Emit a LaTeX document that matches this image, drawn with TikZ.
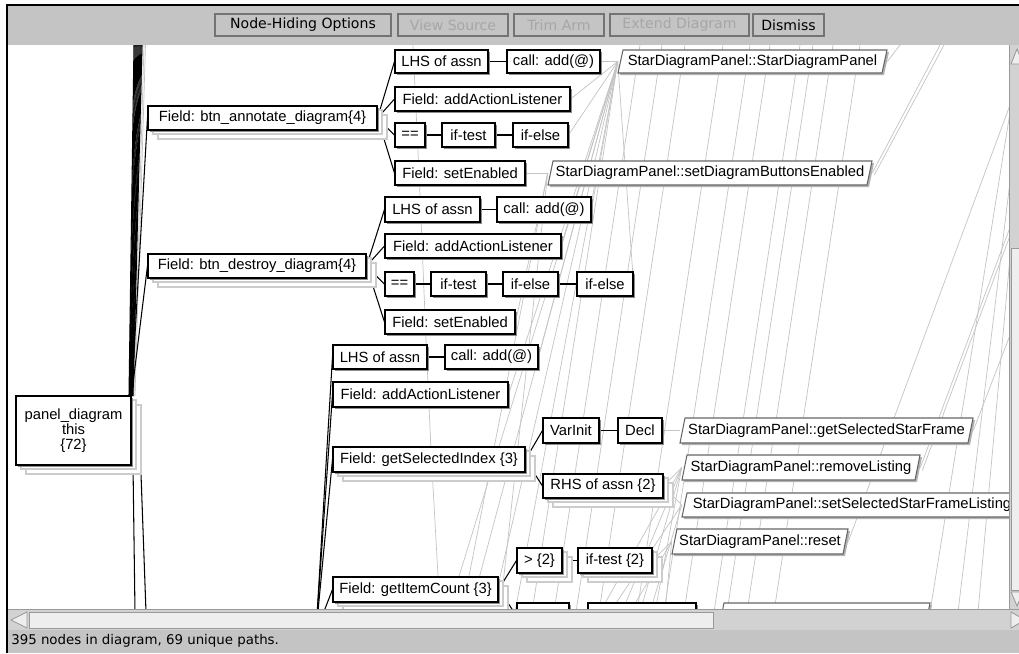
\documentclass[tikz,border=0pt]{standalone}
\usepackage{fontspec}
\setmainfont{Liberation Sans}
\newfontfamily\uifont{DejaVu Sans}
\pgfdeclarelayer{back}
\pgfsetlayers{back,main}

\definecolor{barGray}{HTML}{C4C4C4}
\definecolor{trackGray}{HTML}{D2D2D2}
\definecolor{thumbGray}{HTML}{EEEEEE}
\definecolor{lineGray}{HTML}{C4C4C4}

\newcommand\nodefont{\fontsize{10.5}{10.5}\selectfont}

\tikzset{
  cell/.style={draw=black, fill=white, line width=0.75pt, inner sep=0pt, align=center, font=\nodefont},
  cellshadow/.style={fill=black!45},
  stackframe/.style={draw=black!20, fill=white, line width=0.75pt},
  starframe/.style={draw=black!60, fill=white, line width=0.75pt},
  startext/.style={inner sep=0pt, font=\nodefont},
  tie/.style={black, line width=0.75pt},
  faint/.style={lineGray, line width=0.5pt},
  btn/.style={draw=black!55, fill=barGray, line width=0.75pt, inner sep=0pt, minimum height={22*0.025cm}, font=\uifont\fontsize{10}{12}\selectfont},
  btnoff/.style={btn, text=black!35},
  scrollpart/.style={draw=black!40, fill=thumbGray, line width=0.6pt},
}

% name, x1, y1, x2, y2, text (pixel corners)
\newcommand\cellbox[6]{%
  \fill[cellshadow] (#2+2,#3+2) rectangle (#4+2,#5+2);
  \node[cell, minimum width={(#4-#2)*0.025cm}, minimum height={(#5-#3)*0.025cm}] (#1) at ({(#2+#4)/2},{(#3+#5)/2}) {#6};}
\newcommand\stackbox[6]{%
  \draw[stackframe] (#2+10,#3+9) rectangle (#4+10,#5+9);
  \draw[stackframe] (#2+5,#3+4) rectangle (#4+5,#5+4);
  \cellbox{#1}{#2}{#3}{#4}{#5}{#6}}
\newcommand\starnode[6]{%
  \fill[black!30] (#2+2,#5+2) -- (#2+7,#3+2) -- (#4+2,#3+2) -- (#4-3,#5+2) -- cycle;
  \draw[starframe] (#2,#5) -- (#2+5,#3) -- (#4,#3) -- (#4-5,#5) -- cycle;
  \node[startext, minimum width={(#4-#2)*0.025cm}, minimum height={(#5-#3)*0.025cm}] (#1) at ({(#2+#4)/2},{(#3+#5)/2}) {#6};}

\begin{document}
\begin{tikzpicture}[x=0.025cm, y=-0.025cm]
	\useasboundingbox (0,0) rectangle (1019,653);
	% root
	\stackbox{panel}{16}{396}{131}{465}{panel\_diagram\\this\\\{72\}}
	% first field
	\stackbox{fA}{148}{106}{377}{130}{Field: btn\_annotate\_diagram\{4\}}
	\cellbox{aLHS}{395}{50}{488}{73}{LHS of assn}
	\cellbox{aCall}{507}{50}{600}{73}{call: add(@)}
	\starnode{sdpA}{618}{50}{887}{73}{StarDiagramPanel::StarDiagramPanel}
	\cellbox{aAdd}{395}{87}{570}{111}{Field: addActionListener}
	\cellbox{aEq}{395}{123}{425}{147}{==}
	\cellbox{aIft}{442}{123}{495}{147}{if-test}
	\cellbox{aIfe}{513}{123}{568}{147}{if-else}
	\cellbox{aSet}{395}{161}{525}{185}{Field: setEnabled}
	\starnode{sdpB}{548}{161}{872}{185}{StarDiagramPanel::setDiagramButtonsEnabled}
	% second field
	\stackbox{fB}{148}{254}{366}{278}{Field: btn\_destroy\_diagram\{4\}}
	\cellbox{bLHS}{385}{197}{480}{222}{LHS of assn}
	\cellbox{bCall}{497}{197}{591}{222}{call: add(@)}
	\cellbox{bAdd}{385}{234}{561}{258}{Field: addActionListener}
	\cellbox{bEq}{385}{272}{414}{296}{==}
	\cellbox{bIft}{431}{272}{486}{296}{if-test}
	\cellbox{bIfe}{503}{272}{558}{296}{if-else}
	\cellbox{bIfe2}{577}{272}{633}{296}{if-else}
	\cellbox{bSet}{385}{310}{515}{334}{Field: setEnabled}
	% third group
	\cellbox{cLHS}{333}{345}{427}{369}{LHS of assn}
	\cellbox{cCall}{445}{345}{538}{369}{call: add(@)}
	\cellbox{cAdd}{333}{382}{508}{407}{Field: addActionListener}
	\stackbox{cGsi}{333}{447}{525}{472}{Field: getSelectedIndex \{3\}}
	\cellbox{cVar}{543}{418}{599}{443}{VarInit}
	\cellbox{cDecl}{618}{418}{662}{443}{Decl}
	\starnode{sdpC}{680}{418}{973}{443}{StarDiagramPanel::getSelectedStarFrame}
	\stackbox{cRhs}{543}{474}{663}{498}{RHS of assn \{2\}}
	\starnode{sdpD}{682}{455}{920}{480}{StarDiagramPanel::removeListing}
	\starnode{sdpE}{682}{493}{1022}{517}{StarDiagramPanel::setSelectedStarFrameListing}
	\starnode{sdpF}{672}{529}{848}{554}{StarDiagramPanel::reset}
	\stackbox{cGic}{333}{577}{498}{602}{Field: getItemCount \{3\}}
	\stackbox{cGt}{517}{548}{562}{573}{> \{2\}}
	\stackbox{cIft2}{578}{548}{652}{573}{if-test \{2\}}
	\cellbox{pA}{517}{603}{569}{628}{}
	\cellbox{pB}{588}{603}{696}{628}{}
	\starnode{pC}{719}{603}{930}{628}{}
	\coordinate (cFeed) at (316,632);

	\begin{pgfonlayer}{back}
		\fill[white] (8,45) rectangle (1009,609);
		% paths leaving the view
		\foreach \xt in {640,662,685,723,750,770,800,813,833,860}
			\draw[faint] (\xt,45) -- (\xt-86,612);
		\draw[faint] (1012,100) -- (930,612);
		\draw[faint] (1012,165) -- (958,612);
		\draw[faint] (1012,235) -- (978,612);
		\draw[faint] (413,45) -- (420,195) -- (426,340) -- (431,450) -- (440,612);
		\foreach \s in {aAdd,aIfe,bCall,bAdd,bIfe2,cCall,cAdd}
			\draw[faint] (\s.east) -- (sdpA.west);
		\foreach \xb in {448,470,492,515,532}
			\draw[faint] (\xb,612) -- (sdpA.west);
		\draw[faint] (bSet.east) -- (sdpB.west);
		\foreach \xb in {462,500}
			\draw[faint] (\xb,612) -- (sdpB.west);
		\draw[faint] (sdpA.east) -- (900,45);
		\draw[faint] (sdpB.east) -- (940,45);
		\draw[faint] ([shift={(2,2)}]sdpB.east) -- (944,45);
		\draw[faint] (sdpC.east) -- (1012,330);
		\draw[faint] (sdpD.east) -- (1012,222);
		\draw[faint] ([shift={(2,3)}]sdpD.east) -- (1014,225);
		\draw[faint] (sdpF.east) -- (1010,105);
		\foreach \xb in {600,622,640,655}
			\draw[faint] (\xb,612) -- (sdpD.west);
		\foreach \xb in {610,650}
			\draw[faint] (\xb,612) -- (sdpE.west);
		\foreach \xb in {630,665}
			\draw[faint] (\xb,612) -- (sdpF.west);
		\foreach \i in {0,...,3}
			\draw[faint] (132+\i,396) -- (141+\i*1.5,45);
		% calls into the star nodes
		\draw[faint] (aCall) -- (sdpA);
		\draw[faint] (aSet) -- (sdpB);
		\draw[faint] (cDecl) -- (sdpC);
		\draw[faint] (cRhs.east) -- (sdpD.west);
		\draw[faint] (cRhs.east) -- (sdpE.west);
		\draw[faint] (cIft2.east) -- (sdpF.west);
		% tree edges
		\foreach \i in {0,...,8}
			\draw[tie] (129+\i*0.5,396) -- (134+\i,45);
		\draw[tie] (panel.north east) -- (fA.west);
		\draw[tie] (panel.north east) -- (fB.west);
		\draw[tie] (133,465) -- (135,612);
		\draw[tie] (141,474) -- (146,612);
		\foreach \c in {aLHS,aAdd,aEq,aSet}
			\draw[tie] (fA.east) -- (\c.west);
		\foreach \c in {bLHS,bAdd,bEq,bSet}
			\draw[tie] (fB.east) -- (\c.west);
		\foreach \c in {cLHS,cAdd,cGsi,cGic}
			\draw[tie] (cFeed) -- (\c.west);
		\draw[tie] (cGsi.east) -- (cVar.west);
		\draw[tie] (cGsi.east) -- (cRhs.west);
		\draw[tie] (cGic.east) -- (cGt.west);
		\draw[tie] (cGic.east) -- (pA.west);
		\draw[tie] (aLHS) -- (aCall);
		\draw[tie] (aEq) -- (aIft) -- (aIfe);
		\draw[tie] (bLHS) -- (bCall);
		\draw[tie] (bEq) -- (bIft) -- (bIfe) -- (bIfe2);
		\draw[tie] (cLHS) -- (cCall);
		\draw[tie] (cVar) -- (cDecl);
		\draw[tie] (cGt) -- (cIft2);
	\end{pgfonlayer}

	% window frame and tool bar
	\fill[barGray] (8,6) rectangle (1019,45);
	\draw[black, line width=1.4pt] (7,653) -- (7,5) -- (1019,5);
	\node[btn, minimum width={176*0.025cm}] (optHide) at (303,25) {Node-Hiding Options};
	\node[btnoff, minimum width={110*0.025cm}] (optSource) at (453,25) {View Source};
	\node[btnoff, minimum width={90*0.025cm}] (optTrim) at (559,25) {Trim Arm};
	\node[btnoff, minimum width={139*0.025cm}] (optExtend) at (679.5,25) {Extend Diagram};
	\node[btn, minimum width={71*0.025cm}] (optDismiss) at (788.5,25) {Dismiss};
	% vertical scroll bar
	\fill[trackGray] (1009,45) rectangle (1019,609);
	\draw[black!40, line width=0.6pt] (1009.5,45) -- (1009.5,609);
	\draw[scrollpart] (1011,64) -- (1017,49) -- (1023,64) -- cycle;
	\draw[scrollpart] (1011,248) rectangle (1024,590);
	\draw[scrollpart] (1011,592) -- (1017,606) -- (1023,592) -- cycle;
	% horizontal scroll bar
	\fill[trackGray] (8,609) rectangle (1019,630);
	\draw[black!40, line width=0.6pt] (8,609.5) -- (1019,609.5);
	\draw[scrollpart] (27,612) -- (11,620) -- (27,628) -- cycle;
	\draw[scrollpart] (29,612) rectangle (713,628);
	\draw[scrollpart] (1011,612) -- (1025,620) -- (1011,628) -- cycle;
	% status line
	\fill[barGray] (8,630) rectangle (1019,653);
	\node[anchor=west, inner sep=0pt, font=\uifont\fontsize{9.5}{11}\selectfont] (status) at (11,641) {395 nodes in diagram, 69 unique paths.};
\end{tikzpicture}
\end{document}
